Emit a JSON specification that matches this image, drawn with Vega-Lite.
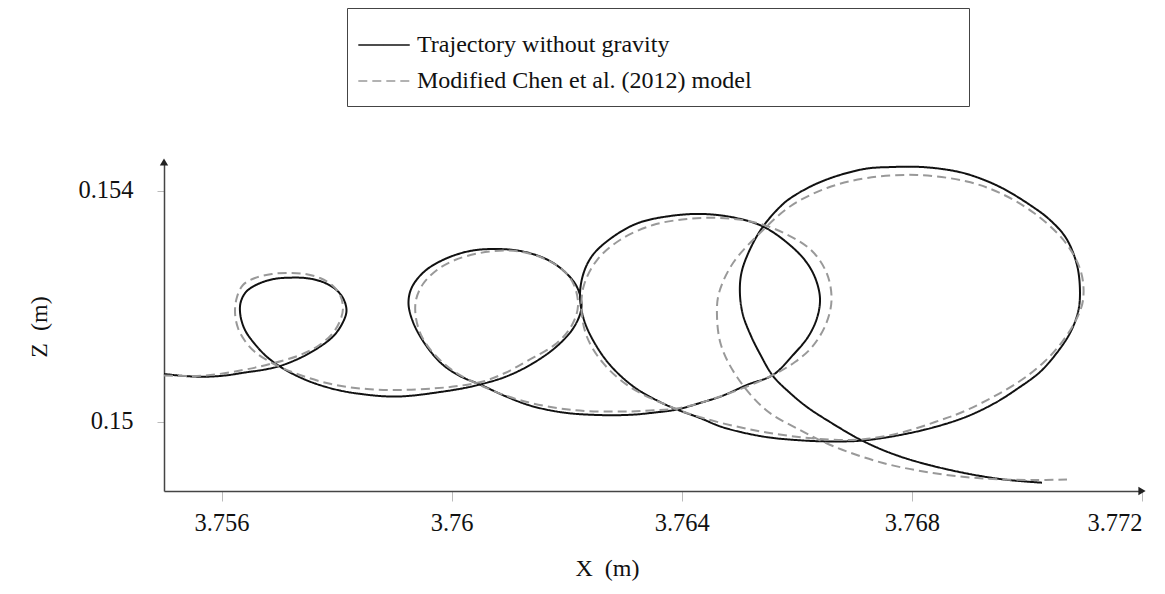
{
  "$schema": "https://vega.github.io/schema/vega-lite/v6.json",
  "width": 978,
  "height": 329,
  "autosize": "none",
  "padding": {"left": 164, "top": 162, "right": 23, "bottom": 103},
  "background": "white",
  "config": {
    "view": {"stroke": null},
    "font": "Liberation Serif",
    "axis": {"grid": false, "labelFont": "Liberation Serif", "titleFont": "Liberation Serif", "labelFontSize": 24.5, "titleFontSize": 24, "labelColor": "#111", "titleColor": "#111", "titleFontWeight": "normal", "domainColor": "#444", "domainWidth": 1.5, "tickColor": "#bbb", "tickWidth": 1}
  },
  "layer": [
    {
      "data": {"values": [
        {"series":"Trajectory without gravity","i":1,"x":3.755000,"z":0.150827},
        {"series":"Trajectory without gravity","i":2,"x":3.755365,"z":0.150792},
        {"series":"Trajectory without gravity","i":3,"x":3.755713,"z":0.150780},
        {"series":"Trajectory without gravity","i":4,"x":3.756060,"z":0.150801},
        {"series":"Trajectory without gravity","i":5,"x":3.756408,"z":0.150853},
        {"series":"Trajectory without gravity","i":6,"x":3.756756,"z":0.150905},
        {"series":"Trajectory without gravity","i":7,"x":3.757016,"z":0.150966},
        {"series":"Trajectory without gravity","i":8,"x":3.757364,"z":0.151104},
        {"series":"Trajectory without gravity","i":9,"x":3.757677,"z":0.151278},
        {"series":"Trajectory without gravity","i":10,"x":3.757938,"z":0.151477},
        {"series":"Trajectory without gravity","i":11,"x":3.758094,"z":0.151693},
        {"series":"Trajectory without gravity","i":12,"x":3.758172,"z":0.151919},
        {"series":"Trajectory without gravity","i":13,"x":3.758111,"z":0.152144},
        {"series":"Trajectory without gravity","i":14,"x":3.757955,"z":0.152317},
        {"series":"Trajectory without gravity","i":15,"x":3.757712,"z":0.152438},
        {"series":"Trajectory without gravity","i":16,"x":3.757451,"z":0.152490},
        {"series":"Trajectory without gravity","i":17,"x":3.757190,"z":0.152496},
        {"series":"Trajectory without gravity","i":18,"x":3.756912,"z":0.152473},
        {"series":"Trajectory without gravity","i":19,"x":3.756634,"z":0.152386},
        {"series":"Trajectory without gravity","i":20,"x":3.756425,"z":0.152248},
        {"series":"Trajectory without gravity","i":21,"x":3.756330,"z":0.152057},
        {"series":"Trajectory without gravity","i":22,"x":3.756330,"z":0.151832},
        {"series":"Trajectory without gravity","i":23,"x":3.756408,"z":0.151589},
        {"series":"Trajectory without gravity","i":24,"x":3.756564,"z":0.151364},
        {"series":"Trajectory without gravity","i":25,"x":3.756773,"z":0.151139},
        {"series":"Trajectory without gravity","i":26,"x":3.757016,"z":0.150957},
        {"series":"Trajectory without gravity","i":27,"x":3.757295,"z":0.150801},
        {"series":"Trajectory without gravity","i":28,"x":3.757625,"z":0.150663},
        {"series":"Trajectory without gravity","i":29,"x":3.758059,"z":0.150541},
        {"series":"Trajectory without gravity","i":30,"x":3.758494,"z":0.150472},
        {"series":"Trajectory without gravity","i":31,"x":3.758928,"z":0.150437},
        {"series":"Trajectory without gravity","i":32,"x":3.759276,"z":0.150449},
        {"series":"Trajectory without gravity","i":33,"x":3.759798,"z":0.150515},
        {"series":"Trajectory without gravity","i":34,"x":3.760180,"z":0.150576},
        {"series":"Trajectory without gravity","i":35,"x":3.760493,"z":0.150645},
        {"series":"Trajectory without gravity","i":36,"x":3.760927,"z":0.150775},
        {"series":"Trajectory without gravity","i":37,"x":3.761362,"z":0.150983},
        {"series":"Trajectory without gravity","i":38,"x":3.761814,"z":0.151295},
        {"series":"Trajectory without gravity","i":39,"x":3.762127,"z":0.151641},
        {"series":"Trajectory without gravity","i":40,"x":3.762257,"z":0.151988},
        {"series":"Trajectory without gravity","i":41,"x":3.762179,"z":0.152334},
        {"series":"Trajectory without gravity","i":42,"x":3.761970,"z":0.152594},
        {"series":"Trajectory without gravity","i":43,"x":3.761675,"z":0.152802},
        {"series":"Trajectory without gravity","i":44,"x":3.761240,"z":0.152949},
        {"series":"Trajectory without gravity","i":45,"x":3.760788,"z":0.152993},
        {"series":"Trajectory without gravity","i":46,"x":3.760319,"z":0.152958},
        {"series":"Trajectory without gravity","i":47,"x":3.759884,"z":0.152819},
        {"series":"Trajectory without gravity","i":48,"x":3.759537,"z":0.152612},
        {"series":"Trajectory without gravity","i":49,"x":3.759311,"z":0.152334},
        {"series":"Trajectory without gravity","i":50,"x":3.759250,"z":0.152057},
        {"series":"Trajectory without gravity","i":51,"x":3.759328,"z":0.151728},
        {"series":"Trajectory without gravity","i":52,"x":3.759537,"z":0.151347},
        {"series":"Trajectory without gravity","i":53,"x":3.759832,"z":0.151000},
        {"series":"Trajectory without gravity","i":54,"x":3.760145,"z":0.150792},
        {"series":"Trajectory without gravity","i":55,"x":3.760493,"z":0.150645},
        {"series":"Trajectory without gravity","i":56,"x":3.760927,"z":0.150446},
        {"series":"Trajectory without gravity","i":57,"x":3.761362,"z":0.150281},
        {"series":"Trajectory without gravity","i":58,"x":3.761936,"z":0.150160},
        {"series":"Trajectory without gravity","i":59,"x":3.762527,"z":0.150117},
        {"series":"Trajectory without gravity","i":60,"x":3.763100,"z":0.150120},
        {"series":"Trajectory without gravity","i":61,"x":3.763535,"z":0.150160},
        {"series":"Trajectory without gravity","i":62,"x":3.763917,"z":0.150212},
        {"series":"Trajectory without gravity","i":63,"x":3.764317,"z":0.150325},
        {"series":"Trajectory without gravity","i":64,"x":3.764699,"z":0.150446},
        {"series":"Trajectory without gravity","i":65,"x":3.765152,"z":0.150645},
        {"series":"Trajectory without gravity","i":66,"x":3.765586,"z":0.150810},
        {"series":"Trajectory without gravity","i":67,"x":3.765934,"z":0.151156},
        {"series":"Trajectory without gravity","i":68,"x":3.766194,"z":0.151468},
        {"series":"Trajectory without gravity","i":69,"x":3.766351,"z":0.151797},
        {"series":"Trajectory without gravity","i":70,"x":3.766403,"z":0.152126},
        {"series":"Trajectory without gravity","i":71,"x":3.766333,"z":0.152456},
        {"series":"Trajectory without gravity","i":72,"x":3.766177,"z":0.152750},
        {"series":"Trajectory without gravity","i":73,"x":3.765899,"z":0.153045},
        {"series":"Trajectory without gravity","i":74,"x":3.765430,"z":0.153374},
        {"series":"Trajectory without gravity","i":75,"x":3.764943,"z":0.153530},
        {"series":"Trajectory without gravity","i":76,"x":3.764369,"z":0.153599},
        {"series":"Trajectory without gravity","i":77,"x":3.763796,"z":0.153564},
        {"series":"Trajectory without gravity","i":78,"x":3.763222,"z":0.153435},
        {"series":"Trajectory without gravity","i":79,"x":3.762753,"z":0.153166},
        {"series":"Trajectory without gravity","i":80,"x":3.762440,"z":0.152871},
        {"series":"Trajectory without gravity","i":81,"x":3.762283,"z":0.152542},
        {"series":"Trajectory without gravity","i":82,"x":3.762231,"z":0.152161},
        {"series":"Trajectory without gravity","i":83,"x":3.762301,"z":0.151763},
        {"series":"Trajectory without gravity","i":84,"x":3.762475,"z":0.151381},
        {"series":"Trajectory without gravity","i":85,"x":3.762753,"z":0.150983},
        {"series":"Trajectory without gravity","i":86,"x":3.763170,"z":0.150602},
        {"series":"Trajectory without gravity","i":87,"x":3.763622,"z":0.150342},
        {"series":"Trajectory without gravity","i":88,"x":3.763917,"z":0.150212},
        {"series":"Trajectory without gravity","i":89,"x":3.764317,"z":0.150065},
        {"series":"Trajectory without gravity","i":90,"x":3.764699,"z":0.149909},
        {"series":"Trajectory without gravity","i":91,"x":3.765412,"z":0.149744},
        {"series":"Trajectory without gravity","i":92,"x":3.766107,"z":0.149675},
        {"series":"Trajectory without gravity","i":93,"x":3.766698,"z":0.149658},
        {"series":"Trajectory without gravity","i":94,"x":3.767150,"z":0.149675},
        {"series":"Trajectory without gravity","i":95,"x":3.767794,"z":0.149770},
        {"series":"Trajectory without gravity","i":96,"x":3.768402,"z":0.149909},
        {"series":"Trajectory without gravity","i":97,"x":3.768958,"z":0.150091},
        {"series":"Trajectory without gravity","i":98,"x":3.769445,"z":0.150325},
        {"series":"Trajectory without gravity","i":99,"x":3.769827,"z":0.150567},
        {"series":"Trajectory without gravity","i":100,"x":3.770227,"z":0.150862},
        {"series":"Trajectory without gravity","i":101,"x":3.770505,"z":0.151174},
        {"series":"Trajectory without gravity","i":102,"x":3.770749,"z":0.151537},
        {"series":"Trajectory without gravity","i":103,"x":3.770888,"z":0.151901},
        {"series":"Trajectory without gravity","i":104,"x":3.770922,"z":0.152230},
        {"series":"Trajectory without gravity","i":105,"x":3.770870,"z":0.152716},
        {"series":"Trajectory without gravity","i":106,"x":3.770679,"z":0.153183},
        {"series":"Trajectory without gravity","i":107,"x":3.770401,"z":0.153495},
        {"series":"Trajectory without gravity","i":108,"x":3.770106,"z":0.153720},
        {"series":"Trajectory without gravity","i":109,"x":3.769532,"z":0.154067},
        {"series":"Trajectory without gravity","i":110,"x":3.768958,"z":0.154292},
        {"series":"Trajectory without gravity","i":111,"x":3.768524,"z":0.154379},
        {"series":"Trajectory without gravity","i":112,"x":3.768089,"z":0.154417},
        {"series":"Trajectory without gravity","i":113,"x":3.767655,"z":0.154413},
        {"series":"Trajectory without gravity","i":114,"x":3.767220,"z":0.154387},
        {"series":"Trajectory without gravity","i":115,"x":3.766751,"z":0.154275},
        {"series":"Trajectory without gravity","i":116,"x":3.766351,"z":0.154128},
        {"series":"Trajectory without gravity","i":117,"x":3.766003,"z":0.153946},
        {"series":"Trajectory without gravity","i":118,"x":3.765760,"z":0.153772},
        {"series":"Trajectory without gravity","i":119,"x":3.765395,"z":0.153357},
        {"series":"Trajectory without gravity","i":120,"x":3.765134,"z":0.152871},
        {"series":"Trajectory without gravity","i":121,"x":3.765030,"z":0.152542},
        {"series":"Trajectory without gravity","i":122,"x":3.765012,"z":0.152196},
        {"series":"Trajectory without gravity","i":123,"x":3.765064,"z":0.151849},
        {"series":"Trajectory without gravity","i":124,"x":3.765204,"z":0.151485},
        {"series":"Trajectory without gravity","i":125,"x":3.765360,"z":0.151174},
        {"series":"Trajectory without gravity","i":126,"x":3.765586,"z":0.150792},
        {"series":"Trajectory without gravity","i":127,"x":3.765882,"z":0.150498},
        {"series":"Trajectory without gravity","i":128,"x":3.766177,"z":0.150255},
        {"series":"Trajectory without gravity","i":129,"x":3.766577,"z":0.149995},
        {"series":"Trajectory without gravity","i":130,"x":3.767150,"z":0.149666},
        {"series":"Trajectory without gravity","i":131,"x":3.767794,"z":0.149398},
        {"series":"Trajectory without gravity","i":132,"x":3.768663,"z":0.149164},
        {"series":"Trajectory without gravity","i":133,"x":3.769532,"z":0.149008},
        {"series":"Trajectory without gravity","i":134,"x":3.770262,"z":0.148944},
        {"series":"Modified Chen et al. (2012) model","i":1,"x":3.755000,"z":0.150801},
        {"series":"Modified Chen et al. (2012) model","i":2,"x":3.755713,"z":0.150801},
        {"series":"Modified Chen et al. (2012) model","i":3,"x":3.756373,"z":0.150896},
        {"series":"Modified Chen et al. (2012) model","i":4,"x":3.756843,"z":0.151000},
        {"series":"Modified Chen et al. (2012) model","i":5,"x":3.757364,"z":0.151156},
        {"series":"Modified Chen et al. (2012) model","i":6,"x":3.757677,"z":0.151312},
        {"series":"Modified Chen et al. (2012) model","i":7,"x":3.757920,"z":0.151520},
        {"series":"Modified Chen et al. (2012) model","i":8,"x":3.758059,"z":0.151745},
        {"series":"Modified Chen et al. (2012) model","i":9,"x":3.758111,"z":0.151971},
        {"series":"Modified Chen et al. (2012) model","i":10,"x":3.758059,"z":0.152196},
        {"series":"Modified Chen et al. (2012) model","i":11,"x":3.757920,"z":0.152369},
        {"series":"Modified Chen et al. (2012) model","i":12,"x":3.757712,"z":0.152490},
        {"series":"Modified Chen et al. (2012) model","i":13,"x":3.757451,"z":0.152560},
        {"series":"Modified Chen et al. (2012) model","i":14,"x":3.757190,"z":0.152577},
        {"series":"Modified Chen et al. (2012) model","i":15,"x":3.756877,"z":0.152560},
        {"series":"Modified Chen et al. (2012) model","i":16,"x":3.756582,"z":0.152490},
        {"series":"Modified Chen et al. (2012) model","i":17,"x":3.756373,"z":0.152369},
        {"series":"Modified Chen et al. (2012) model","i":18,"x":3.756269,"z":0.152161},
        {"series":"Modified Chen et al. (2012) model","i":19,"x":3.756234,"z":0.151901},
        {"series":"Modified Chen et al. (2012) model","i":20,"x":3.756286,"z":0.151624},
        {"series":"Modified Chen et al. (2012) model","i":21,"x":3.756408,"z":0.151399},
        {"series":"Modified Chen et al. (2012) model","i":22,"x":3.756582,"z":0.151208},
        {"series":"Modified Chen et al. (2012) model","i":23,"x":3.756895,"z":0.151009},
        {"series":"Modified Chen et al. (2012) model","i":24,"x":3.757364,"z":0.150810},
        {"series":"Modified Chen et al. (2012) model","i":25,"x":3.757938,"z":0.150645},
        {"series":"Modified Chen et al. (2012) model","i":26,"x":3.758529,"z":0.150567},
        {"series":"Modified Chen et al. (2012) model","i":27,"x":3.759102,"z":0.150550},
        {"series":"Modified Chen et al. (2012) model","i":28,"x":3.759676,"z":0.150576},
        {"series":"Modified Chen et al. (2012) model","i":29,"x":3.760110,"z":0.150619},
        {"series":"Modified Chen et al. (2012) model","i":30,"x":3.760545,"z":0.150697},
        {"series":"Modified Chen et al. (2012) model","i":31,"x":3.760927,"z":0.150844},
        {"series":"Modified Chen et al. (2012) model","i":32,"x":3.761310,"z":0.151052},
        {"series":"Modified Chen et al. (2012) model","i":33,"x":3.761831,"z":0.151364},
        {"series":"Modified Chen et al. (2012) model","i":34,"x":3.762092,"z":0.151676},
        {"series":"Modified Chen et al. (2012) model","i":35,"x":3.762196,"z":0.152005},
        {"series":"Modified Chen et al. (2012) model","i":36,"x":3.762127,"z":0.152369},
        {"series":"Modified Chen et al. (2012) model","i":37,"x":3.761936,"z":0.152629},
        {"series":"Modified Chen et al. (2012) model","i":38,"x":3.761623,"z":0.152819},
        {"series":"Modified Chen et al. (2012) model","i":39,"x":3.761275,"z":0.152932},
        {"series":"Modified Chen et al. (2012) model","i":40,"x":3.760945,"z":0.152967},
        {"series":"Modified Chen et al. (2012) model","i":41,"x":3.760493,"z":0.152923},
        {"series":"Modified Chen et al. (2012) model","i":42,"x":3.760058,"z":0.152802},
        {"series":"Modified Chen et al. (2012) model","i":43,"x":3.759745,"z":0.152629},
        {"series":"Modified Chen et al. (2012) model","i":44,"x":3.759502,"z":0.152386},
        {"series":"Modified Chen et al. (2012) model","i":45,"x":3.759380,"z":0.152109},
        {"series":"Modified Chen et al. (2012) model","i":46,"x":3.759380,"z":0.151797},
        {"series":"Modified Chen et al. (2012) model","i":47,"x":3.759485,"z":0.151468},
        {"series":"Modified Chen et al. (2012) model","i":48,"x":3.759711,"z":0.151156},
        {"series":"Modified Chen et al. (2012) model","i":49,"x":3.760058,"z":0.150862},
        {"series":"Modified Chen et al. (2012) model","i":50,"x":3.760545,"z":0.150611},
        {"series":"Modified Chen et al. (2012) model","i":51,"x":3.761240,"z":0.150359},
        {"series":"Modified Chen et al. (2012) model","i":52,"x":3.762110,"z":0.150203},
        {"series":"Modified Chen et al. (2012) model","i":53,"x":3.762978,"z":0.150177},
        {"series":"Modified Chen et al. (2012) model","i":54,"x":3.763448,"z":0.150195},
        {"series":"Modified Chen et al. (2012) model","i":55,"x":3.763969,"z":0.150238},
        {"series":"Modified Chen et al. (2012) model","i":56,"x":3.764665,"z":0.150437},
        {"series":"Modified Chen et al. (2012) model","i":57,"x":3.765534,"z":0.150784},
        {"series":"Modified Chen et al. (2012) model","i":58,"x":3.765968,"z":0.151035},
        {"series":"Modified Chen et al. (2012) model","i":59,"x":3.766264,"z":0.151295},
        {"series":"Modified Chen et al. (2012) model","i":60,"x":3.766507,"z":0.151693},
        {"series":"Modified Chen et al. (2012) model","i":61,"x":3.766603,"z":0.152109},
        {"series":"Modified Chen et al. (2012) model","i":62,"x":3.766525,"z":0.152560},
        {"series":"Modified Chen et al. (2012) model","i":63,"x":3.766264,"z":0.152958},
        {"series":"Modified Chen et al. (2012) model","i":64,"x":3.765777,"z":0.153270},
        {"series":"Modified Chen et al. (2012) model","i":65,"x":3.765238,"z":0.153460},
        {"series":"Modified Chen et al. (2012) model","i":66,"x":3.764665,"z":0.153530},
        {"series":"Modified Chen et al. (2012) model","i":67,"x":3.764091,"z":0.153512},
        {"series":"Modified Chen et al. (2012) model","i":68,"x":3.763500,"z":0.153409},
        {"series":"Modified Chen et al. (2012) model","i":69,"x":3.762926,"z":0.153149},
        {"series":"Modified Chen et al. (2012) model","i":70,"x":3.762527,"z":0.152802},
        {"series":"Modified Chen et al. (2012) model","i":71,"x":3.762301,"z":0.152369},
        {"series":"Modified Chen et al. (2012) model","i":72,"x":3.762257,"z":0.151936},
        {"series":"Modified Chen et al. (2012) model","i":73,"x":3.762353,"z":0.151468},
        {"series":"Modified Chen et al. (2012) model","i":74,"x":3.762631,"z":0.151018},
        {"series":"Modified Chen et al. (2012) model","i":75,"x":3.763100,"z":0.150602},
        {"series":"Modified Chen et al. (2012) model","i":76,"x":3.763796,"z":0.150264},
        {"series":"Modified Chen et al. (2012) model","i":77,"x":3.764369,"z":0.150065},
        {"series":"Modified Chen et al. (2012) model","i":78,"x":3.765238,"z":0.149857},
        {"series":"Modified Chen et al. (2012) model","i":79,"x":3.766107,"z":0.149727},
        {"series":"Modified Chen et al. (2012) model","i":80,"x":3.766924,"z":0.149684},
        {"series":"Modified Chen et al. (2012) model","i":81,"x":3.767272,"z":0.149710},
        {"series":"Modified Chen et al. (2012) model","i":82,"x":3.767794,"z":0.149805},
        {"series":"Modified Chen et al. (2012) model","i":83,"x":3.768402,"z":0.149995},
        {"series":"Modified Chen et al. (2012) model","i":84,"x":3.768958,"z":0.150203},
        {"series":"Modified Chen et al. (2012) model","i":85,"x":3.769827,"z":0.150671},
        {"series":"Modified Chen et al. (2012) model","i":86,"x":3.770297,"z":0.151035},
        {"series":"Modified Chen et al. (2012) model","i":87,"x":3.770610,"z":0.151381},
        {"series":"Modified Chen et al. (2012) model","i":88,"x":3.770853,"z":0.151763},
        {"series":"Modified Chen et al. (2012) model","i":89,"x":3.770975,"z":0.152109},
        {"series":"Modified Chen et al. (2012) model","i":90,"x":3.770940,"z":0.152594},
        {"series":"Modified Chen et al. (2012) model","i":91,"x":3.770662,"z":0.153114},
        {"series":"Modified Chen et al. (2012) model","i":92,"x":3.770123,"z":0.153616},
        {"series":"Modified Chen et al. (2012) model","i":93,"x":3.769532,"z":0.153963},
        {"series":"Modified Chen et al. (2012) model","i":94,"x":3.768958,"z":0.154162},
        {"series":"Modified Chen et al. (2012) model","i":95,"x":3.768089,"z":0.154275},
        {"series":"Modified Chen et al. (2012) model","i":96,"x":3.767220,"z":0.154223},
        {"series":"Modified Chen et al. (2012) model","i":97,"x":3.766525,"z":0.154050},
        {"series":"Modified Chen et al. (2012) model","i":98,"x":3.765882,"z":0.153729},
        {"series":"Modified Chen et al. (2012) model","i":99,"x":3.765360,"z":0.153270},
        {"series":"Modified Chen et al. (2012) model","i":100,"x":3.764891,"z":0.152750},
        {"series":"Modified Chen et al. (2012) model","i":101,"x":3.764647,"z":0.152230},
        {"series":"Modified Chen et al. (2012) model","i":102,"x":3.764612,"z":0.151849},
        {"series":"Modified Chen et al. (2012) model","i":103,"x":3.764682,"z":0.151330},
        {"series":"Modified Chen et al. (2012) model","i":104,"x":3.764960,"z":0.150775},
        {"series":"Modified Chen et al. (2012) model","i":105,"x":3.765464,"z":0.150203},
        {"series":"Modified Chen et al. (2012) model","i":106,"x":3.766055,"z":0.149857},
        {"series":"Modified Chen et al. (2012) model","i":107,"x":3.766646,"z":0.149571},
        {"series":"Modified Chen et al. (2012) model","i":108,"x":3.767498,"z":0.149285},
        {"series":"Modified Chen et al. (2012) model","i":109,"x":3.768367,"z":0.149112},
        {"series":"Modified Chen et al. (2012) model","i":110,"x":3.769236,"z":0.149017},
        {"series":"Modified Chen et al. (2012) model","i":111,"x":3.770106,"z":0.148991},
        {"series":"Modified Chen et al. (2012) model","i":112,"x":3.770696,"z":0.148999}
      ]},
      "mark": {"type": "line", "strokeWidth": 2, "interpolate": "catmull-rom"},
      "encoding": {
        "x": {"field": "x", "type": "quantitative", "scale": {"domain": [3.755, 3.772], "nice": false, "zero": false},
          "axis": {"values": [3.756, 3.76, 3.764, 3.768, 3.772], "format": "~g", "tickSize": 10, "labelPadding": 10, "labelDx": -14, "title": "X \u00a0(m)", "titleX": 443, "titlePadding": 22}},
        "y": {"field": "z", "type": "quantitative", "scale": {"domain": [0.1488, 0.1545], "nice": false, "zero": false},
          "axis": {"values": [0.15, 0.154], "format": "~g", "tickSize": 7, "labelPadding": 24, "title": "Z \u00a0(m)", "titlePadding": 26}},
        "order": {"field": "i", "type": "quantitative"},
        "color": {"field": "series", "type": "nominal",
          "scale": {"domain": ["Trajectory without gravity", "Modified Chen et al. (2012) model"], "range": ["#111111", "#999999"]},
          "legend": {"orient": "none", "legendX": 183, "legendY": -154, "title": "\u2003", "titleFontSize": 8, "titlePadding": 3, "titleFont": "Liberation Serif", "strokeColor": "#444444", "fillColor": "white", "padding": 13, "symbolType": "M-1.2,0H3", "symbolSize": 600, "symbolStrokeWidth": 1.5, "labelFont": "Liberation Serif", "labelFontSize": 24, "labelColor": "#111", "labelOffset": 31, "rowPadding": 11, "labelLimit": 800, "labelExpr": "datum.label + '\u00a0\u2800\u2800\u2800\u2800\u2800\u2800\u2800\u2800\u2800\u2800\u2800'"}},
        "strokeDash": {"field": "series", "type": "nominal",
          "scale": {"domain": ["Trajectory without gravity", "Modified Chen et al. (2012) model"], "range": [[1, 0], [9, 5]]},
          "legend": {"orient": "none", "legendX": 183, "legendY": -154, "title": "\u2003", "titleFontSize": 8, "titlePadding": 3, "titleFont": "Liberation Serif", "strokeColor": "#444444", "fillColor": "white", "padding": 13, "symbolType": "M-1.2,0H3", "symbolSize": 600, "symbolStrokeWidth": 1.5, "labelFont": "Liberation Serif", "labelFontSize": 24, "labelColor": "#111", "labelOffset": 31, "rowPadding": 11, "labelLimit": 800, "labelExpr": "datum.label + '\u00a0\u2800\u2800\u2800\u2800\u2800\u2800\u2800\u2800\u2800\u2800\u2800'"}}
      }
    },
    {
      "data": {"values": [{"x": 3.772, "z": 0.1488}]},
      "mark": {"type": "point", "shape": "triangle-right", "filled": true, "color": "#222", "size": 70, "opacity": 1},
      "encoding": {"x": {"field": "x", "type": "quantitative"}, "y": {"field": "z", "type": "quantitative"}}
    },
    {
      "data": {"values": [{"x": 3.755, "z": 0.1545}]},
      "mark": {"type": "point", "shape": "triangle-up", "filled": true, "color": "#222", "size": 70, "opacity": 1},
      "encoding": {"x": {"field": "x", "type": "quantitative"}, "y": {"field": "z", "type": "quantitative"}}
    }
  ]
}
